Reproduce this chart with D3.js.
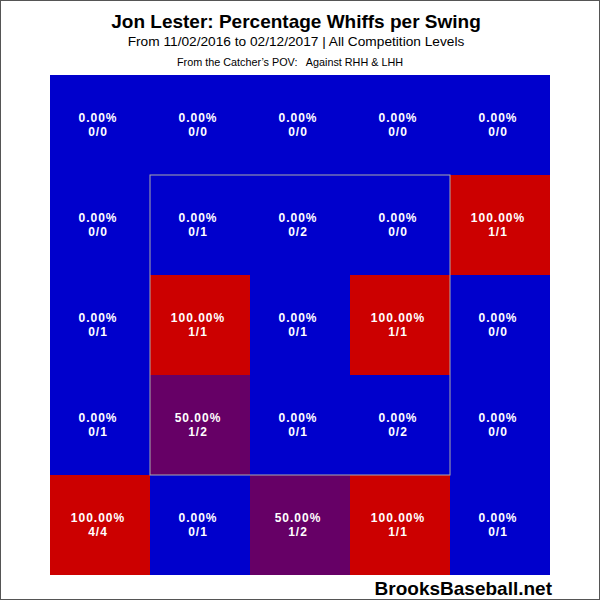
<!DOCTYPE html>
<html>
<head>
<meta charset="utf-8">
<script src="https://cdn.jsdelivr.net/npm/d3@7"></script>
<style>
  body { margin: 0; background: #fff; }
  text { font-family: Arial, "Liberation Sans", sans-serif; }
</style>
</head>
<body>
<svg id="chart" width="600" height="600"></svg>
<script>
// zone columns / rows (catcher's POV), 5x5 grid
const cols = [0, 1, 2, 3, 4]
const rows = [0, 1, 2, 3, 4]

// whiffs per zone, row by row (top to bottom)
const whiffs = [
  [0, 0, 0, 0, 0],
  [0, 0, 0, 0, 1],
  [0, 1, 0, 1, 0],
  [0, 1, 0, 0, 0],
  [4, 0, 1, 1, 0]
]

// swings per zone
const swings = [
  [0, 0, 0, 0, 0],
  [0, 1, 2, 0, 1],
  [1, 1, 1, 1, 0],
  [1, 2, 1, 2, 0],
  [4, 1, 2, 1, 1]
]

const svg = d3.select('#chart')

const x = d3.scaleBand().domain(cols).range([50, 550])
const y = d3.scaleBand().domain(rows).range([75, 575])

const color = d3.scaleLinear()
  .domain([0, 0.5, 1])
  .range(['#0000cc', '#660066', '#cc0000'])

// flatten for binding
const cells = []
rows.forEach((r) => {
  cols.forEach((c) => {
    const w = whiffs[r][c]
    const s = swings[r][c]
    cells.push({ r: r, c: c, w: w, s: s, pct: s > 0 ? w / s : 0 })
  })
})

const g = svg.selectAll('.cell')
  .data(cells)
  .enter()
  .append('g')
  .attr('class', 'cell')
  .attr('transform', d => `translate(${x(d.c)},${y(d.r)})`)

g.append('rect')
  .attr('width', x.bandwidth())
  .attr('height', y.bandwidth())
  .attr('fill', d => color(d.pct))

g.append('text')
  .attr('x', x.bandwidth() / 2 - 2)
  .attr('y', y.bandwidth() / 2 - 3)
  .attr('text-anchor', 'middle')
  .attr('fill', 'white')
  .attr('font-weight', 'bold')
  .attr('font-size', '12px')
  .attr('letter-spacing', '1px')
  .text(d => (d.pct * 100).toFixed(2) + '%')

g.append('text')
  .attr('x', x.bandwidth() / 2 - 2)
  .attr('y', y.bandwidth() / 2 + 11)
  .attr('text-anchor', 'middle')
  .attr('fill', 'white')
  .attr('font-weight', 'bold')
  .attr('font-size', '12px')
  .attr('letter-spacing', '1px')
  .text(d => d.w + '/' + d.s)

// strike zone outline
svg.append('rect')
  .attr('x', x(1))
  .attr('y', y(1))
  .attr('width', x(4) - x(1))
  .attr('height', y(4) - y(1))
  .attr('fill', 'none')
  .attr('stroke', '#aaaaaa')
  .attr('stroke-width', 1)

// titles
svg.append('text')
  .attr('x', 296).attr('y', 28)
  .attr('text-anchor', 'middle')
  .attr('font-weight', 'bold')
  .attr('font-size', '19px')
  .text('Jon Lester: Percentage Whiffs per Swing')

svg.append('text')
  .attr('x', 296).attr('y', 46)
  .attr('text-anchor', 'middle')
  .attr('font-size', '13.7px')
  .text('From 11/02/2016 to 02/12/2017 | All Competition Levels')

svg.append('text')
  .attr('x', 290).attr('y', 66)
  .attr('text-anchor', 'middle')
  .attr('font-size', '10.8px')
  .style('white-space', 'pre')
  .text('From the Catcher\u2019s POV:   Against RHH & LHH')

svg.append('text')
  .attr('x', 552).attr('y', 595)
  .attr('text-anchor', 'end')
  .attr('font-weight', 'bold')
  .attr('font-size', '19px')
  .text('BrooksBaseball.net')

// outer frame
svg.append('rect')
  .attr('x', 0.5).attr('y', 0.5)
  .attr('width', 599).attr('height', 599)
  .attr('fill', 'none')
  .attr('stroke', '#555')
</script>
</body>
</html>
